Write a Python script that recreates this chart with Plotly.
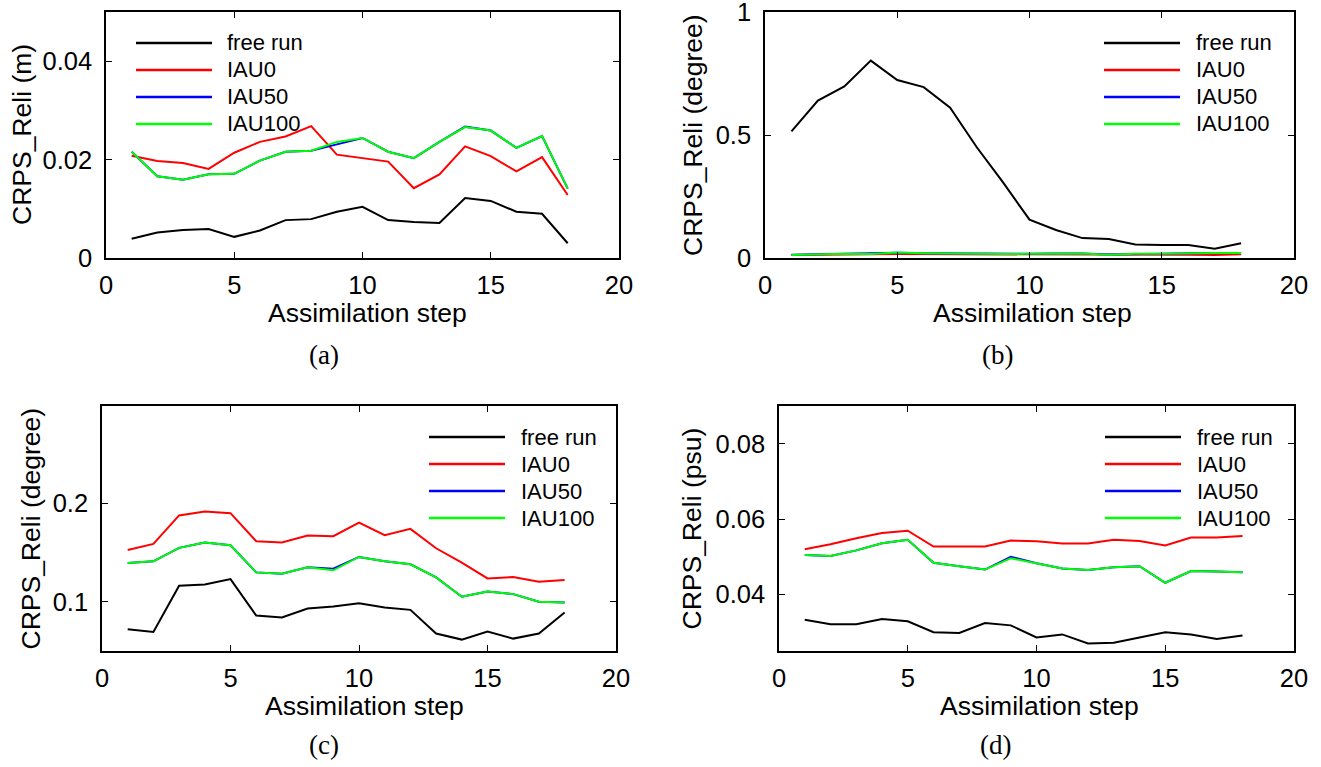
import plotly.graph_objects as go

# ---------------- data ----------------
steps = list(range(1, 19))
series_names = ["free run", "IAU0", "IAU50", "IAU100"]
series_colors = ["#000000", "#ff0000", "#0000ff", "#00ff00"]

# (a) CRPS_Reli (m)
a_free = [0.0039, 0.0052, 0.0057, 0.0059, 0.0043, 0.0056, 0.0077, 0.0079, 0.0094,
          0.0104, 0.0077, 0.0073, 0.0071, 0.0122, 0.0116, 0.0094, 0.0090, 0.0030]
a_iau0 = [0.0208, 0.0197, 0.0193, 0.0181, 0.0214, 0.0236, 0.0247, 0.0268, 0.0210,
          0.0203, 0.0196, 0.0142, 0.0170, 0.0227, 0.0207, 0.0176, 0.0205, 0.0128]
a_iau50 = [0.0216, 0.0166, 0.0159, 0.0170, 0.0171, 0.0198, 0.0216, 0.0218, 0.0231,
           0.0244, 0.0216, 0.0203, 0.0236, 0.0267, 0.0259, 0.0224, 0.0248, 0.0141]
a_iau100 = [0.0216, 0.0166, 0.0159, 0.0170, 0.0171, 0.0198, 0.0216, 0.0218, 0.0236,
            0.0244, 0.0216, 0.0203, 0.0236, 0.0266, 0.0259, 0.0224, 0.0248, 0.0141]

# (b) CRPS_Reli (degree)
b_free = [0.516, 0.641, 0.699, 0.804, 0.725, 0.696, 0.612, 0.452, 0.308,
          0.156, 0.114, 0.081, 0.077, 0.055, 0.053, 0.053, 0.038, 0.060]
b_iau0 = [0.012, 0.014, 0.015, 0.015, 0.016, 0.016, 0.016, 0.014, 0.013,
          0.014, 0.014, 0.013, 0.013, 0.014, 0.013, 0.013, 0.012, 0.015]
b_iau50 = [0.013, 0.015, 0.017, 0.016, 0.021, 0.019, 0.018, 0.016, 0.017,
           0.017, 0.018, 0.018, 0.014, 0.017, 0.017, 0.019, 0.020, 0.020]
b_iau100 = [0.012, 0.015, 0.017, 0.016, 0.022, 0.019, 0.018, 0.015, 0.016,
            0.017, 0.018, 0.018, 0.013, 0.017, 0.017, 0.020, 0.020, 0.020]

# (c) CRPS_Reli (degree)
c_free = [0.0721, 0.0694, 0.1163, 0.1177, 0.1231, 0.0861, 0.0840, 0.0932, 0.0952,
          0.0986, 0.0942, 0.0918, 0.0677, 0.0616, 0.0697, 0.0626, 0.0677, 0.0891]
c_iau0 = [0.1527, 0.1588, 0.1878, 0.1918, 0.1901, 0.1616, 0.1602, 0.1673, 0.1667,
          0.1806, 0.1677, 0.1741, 0.1544, 0.1398, 0.1238, 0.1252, 0.1204, 0.1221]
c_iau50 = [0.1395, 0.1412, 0.1548, 0.1602, 0.1575, 0.1299, 0.1286, 0.1350, 0.1337,
           0.1456, 0.1412, 0.1381, 0.1248, 0.1051, 0.1105, 0.1078, 0.1000, 0.0993]
c_iau100 = [0.1395, 0.1412, 0.1548, 0.1602, 0.1575, 0.1299, 0.1286, 0.1350, 0.1320,
            0.1456, 0.1412, 0.1381, 0.1248, 0.1051, 0.1105, 0.1078, 0.1000, 0.0993]

# (d) CRPS_Reli (psu)
d_free = [0.0333, 0.0321, 0.0321, 0.0335, 0.0329, 0.0300, 0.0298, 0.0324, 0.0318,
          0.0286, 0.0294, 0.0270, 0.0272, 0.0287, 0.0300, 0.0294, 0.0282, 0.0291]
d_iau0 = [0.0520, 0.0533, 0.0549, 0.0563, 0.0569, 0.0527, 0.0527, 0.0527, 0.0543,
          0.0541, 0.0535, 0.0535, 0.0545, 0.0542, 0.0530, 0.0551, 0.0551, 0.0555]
d_iau50 = [0.0505, 0.0502, 0.0517, 0.0536, 0.0545, 0.0484, 0.0475, 0.0466, 0.0500,
           0.0483, 0.0469, 0.0465, 0.0472, 0.0475, 0.0431, 0.0462, 0.0461, 0.0459]
d_iau100 = [0.0505, 0.0502, 0.0517, 0.0536, 0.0545, 0.0484, 0.0475, 0.0466, 0.0496,
            0.0483, 0.0469, 0.0465, 0.0472, 0.0475, 0.0431, 0.0462, 0.0461, 0.0459]

x_tickvals = [0, 5, 10, 15, 20]
x_ticktext = ["0", "5", "10", "15", "20"]
x_title = "Assimilation step"

# ---------------- layout geometry (pixels of the 1321x767 picture) ----------------
W, H = 1321, 767


def fx(px):
    return px / W


def fy(py):
    return 1 - py / H


panels = [
    dict(cap="(a)", series=[a_free, a_iau0, a_iau50, a_iau100],
         box=(106, 12, 619, 258), yrange=[0, 0.05],
         ytickvals=[0, 0.02, 0.04], yticktext=["0", "0.02", "0.04"],
         ytitle="CRPS_Reli (m)", ytitle_x=22, xtitle_xy=(367, 313), cap_xy=(324, 355),
         leg=(136, 212, 225, [43, 70, 97, 124])),
    dict(cap="(b)", series=[b_free, b_iau0, b_iau50, b_iau100],
         box=(765, 12, 1294, 258), yrange=[0, 1.002],
         ytickvals=[0, 0.5, 1], yticktext=["0", "0.5", "1"],
         ytitle="CRPS_Reli (degree)", ytitle_x=693, xtitle_xy=(1032, 313), cap_xy=(997, 355),
         leg=(1104, 1180, 1194, [43, 70, 97, 124])),
    dict(cap="(c)", series=[c_free, c_iau0, c_iau50, c_iau100],
         box=(102, 406, 616, 651), yrange=[0.05, 0.299],
         ytickvals=[0.1, 0.2], yticktext=["0.1", "0.2"],
         ytitle="CRPS_Reli (degree)", ytitle_x=30, xtitle_xy=(365, 706), cap_xy=(324, 745),
         leg=(429, 505, 519, [437, 464, 491, 518])),
    dict(cap="(d)", series=[d_free, d_iau0, d_iau50, d_iau100],
         box=(779, 406, 1294, 651), yrange=[0.025, 0.09],
         ytickvals=[0.04, 0.06, 0.08], yticktext=["0.04", "0.06", "0.08"],
         ytitle="CRPS_Reli (psu)", ytitle_x=691, xtitle_xy=(1039, 706), cap_xy=(996, 745),
         leg=(1105, 1181, 1195, [437, 464, 491, 518])),
]

SANS = "Liberation Sans, Arial, Helvetica, sans-serif"
SERIF = "Liberation Serif, DejaVu Serif, serif"

fig = go.Figure()
annotations = []
shapes = []
layout_axes = {}

for i, p in enumerate(panels, start=1):
    sfx = "" if i == 1 else str(i)
    xref, yref = "x" + sfx, "y" + sfx
    x0, y0, x1, y1 = p["box"]
    for vals, name, col in zip(p["series"], series_names, series_colors):
        fig.add_trace(go.Scatter(x=steps, y=vals, mode="lines", name=name,
                                 line=dict(color=col, width=2),
                                 xaxis=xref, yaxis=yref, showlegend=False))
    common = dict(showline=True, linecolor="black", linewidth=1.5, mirror="ticks",
                  ticks="inside", ticklen=6, tickwidth=1, tickcolor="black",
                  showgrid=False, zeroline=False, automargin=False,
                  ticklabeloverflow="allow",
                  tickfont=dict(family=SANS, size=25.5, color="black"))
    layout_axes["xaxis" + sfx] = dict(common, domain=[fx(x0), fx(x1)], range=[0, 20],
                                      tickvals=x_tickvals, ticktext=x_ticktext,
                                      anchor=yref, ticklabelstandoff=4)
    layout_axes["yaxis" + sfx] = dict(common, domain=[fy(y1), fy(y0)], range=p["yrange"],
                                      tickvals=p["ytickvals"], ticktext=p["yticktext"],
                                      anchor=xref, ticklabelstandoff=7)
    tx, ty = p["xtitle_xy"]
    annotations.append(dict(x=fx(tx), y=fy(ty), xref="paper", yref="paper",
                            text=x_title, showarrow=False, xanchor="center", yanchor="middle",
                            font=dict(family=SANS, size=26.5, color="black")))
    annotations.append(dict(x=fx(p["ytitle_x"]), y=fy((y0 + y1) / 2), xref="paper", yref="paper",
                            text=p["ytitle"], showarrow=False, textangle=-90,
                            xanchor="center", yanchor="middle",
                            font=dict(family=SANS, size=26.5, color="black")))
    cx, cy = p["cap_xy"]
    annotations.append(dict(x=fx(cx), y=fy(cy), xref="paper", yref="paper",
                            text=p["cap"], showarrow=False, xanchor="center", yanchor="middle",
                            font=dict(family=SERIF, size=27, color="black")))
    lx0, lx1, ltx, rows = p["leg"]
    for name, col, ry in zip(series_names, series_colors, rows):
        shapes.append(dict(type="line", xref="paper", yref="paper",
                           x0=fx(lx0), x1=fx(lx1), y0=fy(ry), y1=fy(ry),
                           line=dict(color=col, width=2.5)))
        annotations.append(dict(x=fx(ltx), y=fy(ry), xref="paper", yref="paper",
                                text=name, showarrow=False, xanchor="left", yanchor="middle",
                                font=dict(family=SANS, size=22, color="black")))

fig.update_layout(width=W, height=H, autosize=False,
                  margin=dict(l=0, r=0, t=0, b=0, autoexpand=False),
                  paper_bgcolor="white", plot_bgcolor="white",
                  showlegend=False, annotations=annotations, shapes=shapes,
                  **layout_axes)

fig.write_html("out.html")
